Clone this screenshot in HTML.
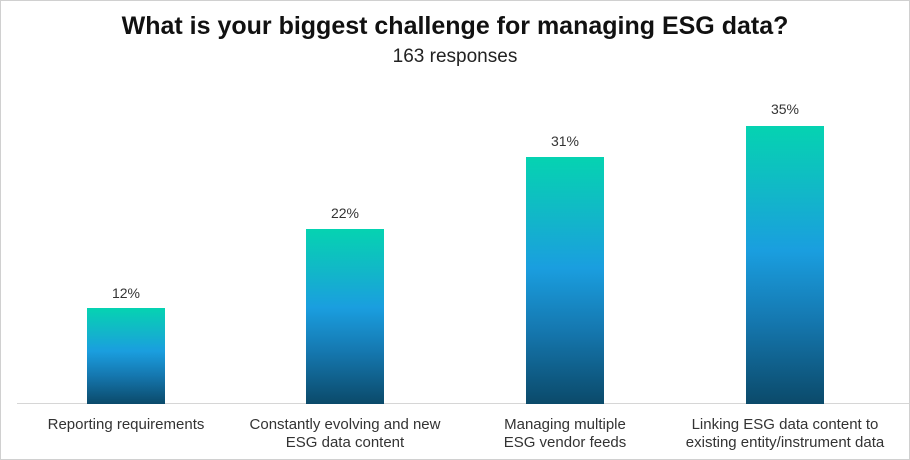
<!DOCTYPE html>
<html><head><style>
body{margin:0;background:#fff;}
.w{position:relative;width:908px;height:458px;border:1px solid #d0d0d0;overflow:hidden;font-family:"Liberation Sans",sans-serif;color:#222;}
.t{position:absolute;top:11px;left:0;width:908px;text-align:center;font-weight:bold;font-size:25px;color:#111;}
.s{position:absolute;top:45px;left:0;width:908px;text-align:center;font-size:19px;color:#222;}
.b{position:absolute;width:78px;bottom:55px;background:linear-gradient(#05d3b1 0%,#12b6c9 25%,#1a9edf 45%,#1578b0 70%,#0b4a6a 100%);}
.v{position:absolute;width:120px;text-align:center;font-size:14px;color:#333;}
.l{position:absolute;width:240px;text-align:center;font-size:15px;line-height:18px;color:#333;top:415px;}
.ax{position:absolute;left:16px;width:892px;top:402px;height:1px;background:#d6d6d6;}
</style></head><body><div class="w">
<div class="t">What is your biggest challenge for managing ESG data?</div>
<div class="s">163 responses</div>
<div class="ax"></div>
<div class="b" style="left:86px;top:307px"></div>
<div class="b" style="left:305px;top:228px"></div>
<div class="b" style="left:525px;top:156px"></div>
<div class="b" style="left:745px;top:125px"></div>
<div class="v" style="left:65px;top:284px">12%</div>
<div class="v" style="left:284px;top:204px">22%</div>
<div class="v" style="left:504px;top:132px">31%</div>
<div class="v" style="left:724px;top:100px">35%</div>
<div class="l" style="left:5px">Reporting requirements</div>
<div class="l" style="left:224px">Constantly evolving and new<br>ESG data content</div>
<div class="l" style="left:444px">Managing multiple<br>ESG vendor feeds</div>
<div class="l" style="left:664px">Linking ESG data content to<br>existing entity/instrument data</div>
</div></body></html>
